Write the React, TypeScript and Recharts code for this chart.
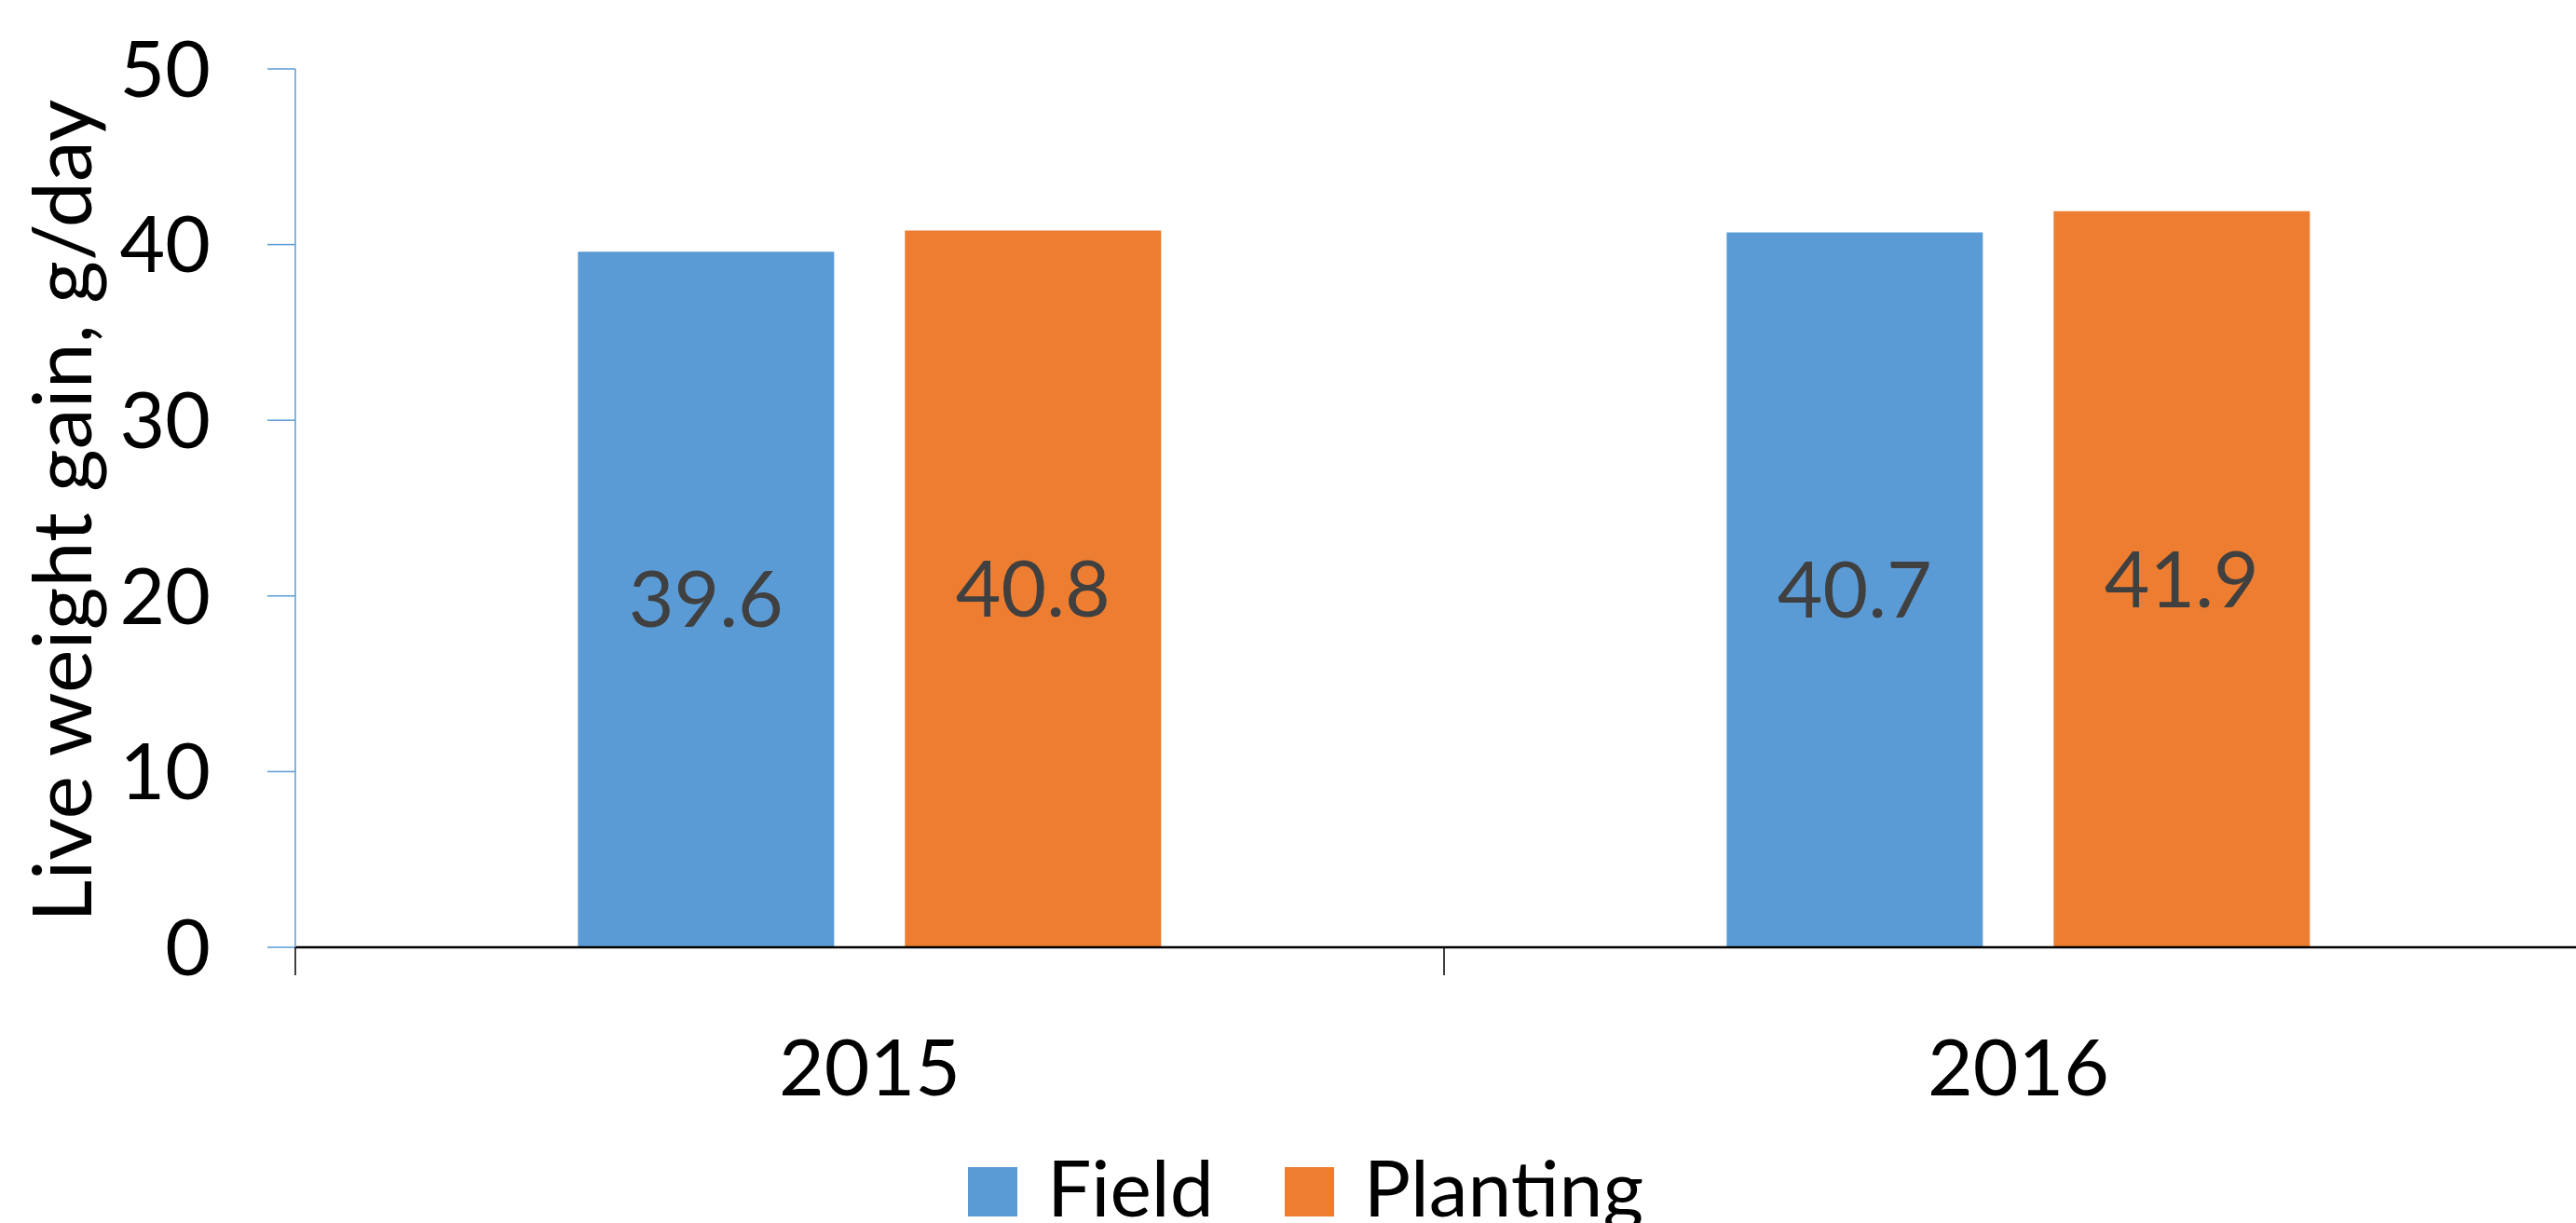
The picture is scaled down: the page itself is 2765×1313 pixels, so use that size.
import { BarChart, Bar, XAxis, YAxis, Legend, LabelList } from "recharts"

// live weight gain per year, g/day
const years = ["2015", "2016"]
const fieldGain = [39.6, 40.7]
const plantingGain = [40.8, 41.9]
const yTicks = [0, 10, 20, 30, 40, 50]
const seriesNames = ["Field", "Planting"]

const FONT = "Lato, 'Open Sans', sans-serif"
const BLUE = "#5B9BD5"
const ORANGE = "#ED7D31"
const seriesColors = [BLUE, ORANGE]

const data = years.map((year, i) => ({
  year,
  field: fieldGain[i],
  planting: plantingGain[i],
}))

// category tick: label plus a boundary tick mark at the left edge of the band
const YearTick = ({ x, y, payload }: any) => {
  const half = payload.offset ?? 0
  return (
    <g>
      <line x1={x - half} x2={x - half} y1={y} y2={y + 30} stroke="#000" strokeWidth={1.5} />
      <text x={x} y={y + 159} textAnchor="middle" fontFamily={FONT} fontSize={84} fill="#000">
        {payload.value}
      </text>
    </g>
  )
}

const YLabel = ({ viewBox, value }: any) => {
  const cx = viewBox.x + 98
  const cy = viewBox.y + viewBox.height / 2 + 3
  return (
    <text
      x={cx}
      y={cy}
      transform={`rotate(-90, ${cx}, ${cy})`}
      textAnchor="middle"
      fontFamily={FONT}
      fontSize={88}
      fill="#000"
    >
      {value}
    </text>
  )
}

const renderLegend = () => (
  <div
    style={{
      display: "flex",
      alignItems: "baseline",
      fontFamily: FONT,
      fontSize: 84,
      lineHeight: 1,
      whiteSpace: "nowrap",
      color: "#000",
    }}
  >
    {seriesNames.map((name, i) => (
      <div
        key={name}
        style={{ display: "flex", alignItems: "baseline", marginRight: i === 0 ? 76 : 0 }}
      >
        <span
          style={{
            display: "inline-block",
            width: 53,
            height: 53,
            background: seriesColors[i],
            marginRight: 32,
          }}
        />
        <span>{name}</span>
      </div>
    ))}
  </div>
)

export default function App() {
  return (
    <div
      style={{
        position: "fixed",
        top: 0,
        left: 0,
        width: 2765,
        height: 1313,
        overflow: "hidden",
        background: "#fff",
      }}
    >
      <BarChart
        width={2783}
        height={1313}
        data={data}
        margin={{ top: 74, right: 0, bottom: 0, left: 0 }}
        barCategoryGap="24.6%"
        barGap={76}
      >
        <XAxis
          dataKey="year"
          height={296}
          axisLine={{ stroke: "#000", strokeWidth: 2.5 }}
          tickLine={false}
          tickSize={0}
          tickMargin={0}
          tick={<YearTick />}
          interval={0}
        />
        <YAxis
          width={317}
          domain={[0, 50]}
          ticks={yTicks}
          allowDataOverflow
          axisLine={{ stroke: BLUE, strokeWidth: 1.5 }}
          tickLine={{ stroke: BLUE, strokeWidth: 1.5 }}
          tickSize={30}
          tickMargin={61}
          tick={{ fontFamily: FONT, fontSize: 84, fill: "#000" }}
          label={{ value: "Live weight gain, g/day", content: <YLabel /> }}
        />
        <Legend
          verticalAlign="bottom"
          content={renderLegend}
          wrapperStyle={{ left: 1039, top: 1232, bottom: "auto", width: "auto", height: 0 }}
        />
        <Bar dataKey="field" name={seriesNames[0]} fill={BLUE} isAnimationActive={false}>
          <LabelList dataKey="field" position="center" fill="#404040" fontSize={84} fontFamily={FONT} />
        </Bar>
        <Bar dataKey="planting" name={seriesNames[1]} fill={ORANGE} isAnimationActive={false}>
          <LabelList dataKey="planting" position="center" fill="#404040" fontSize={84} fontFamily={FONT} />
        </Bar>
      </BarChart>
    </div>
  )
}
